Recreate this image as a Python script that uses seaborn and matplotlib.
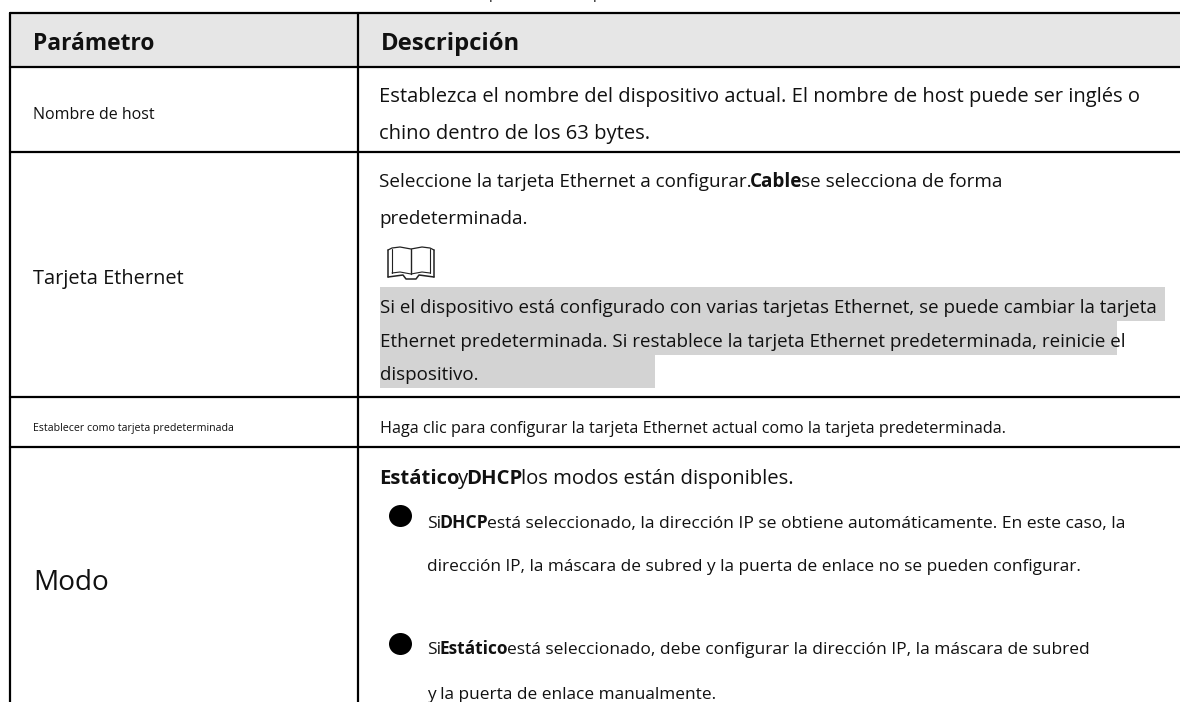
import matplotlib
matplotlib.use("Agg")
import matplotlib.pyplot as plt
import pandas as pd
import seaborn as sns
from matplotlib.patches import Ellipse

# --- table content ---
headers = ["Parámetro", "Descripción"]
header_sizes = [22.7, 23.8]
header_x = [33, 381]
param_names = ["Nombre de host", "Tarjeta Ethernet",
               "Establecer como tarjeta predeterminada", "Modo"]
param_sizes = [16.0, 20.0, 10.6, 28.0]
param_y = [115, 279, 429, 583]

# each line is a list of (text, bold) runs
desc_lines = [
    [("Establezca el nombre del dispositivo actual. El nombre de host puede ser inglés o", False)],
    [("chino dentro de los 63 bytes.", False)],
    [("Seleccione la tarjeta Ethernet a configurar.", False), ("Cable", True), ("se selecciona de forma", False)],
    [("predeterminada.", False)],
    [("Si el dispositivo está configurado con varias tarjetas Ethernet, se puede cambiar la tarjeta", False)],
    [("Ethernet predeterminada. Si restablece la tarjeta Ethernet predeterminada, reinicie el", False)],
    [("dispositivo.", False)],
    [("Haga clic para configurar la tarjeta Ethernet actual como la tarjeta predeterminada.", False)],
    [("Estático", True), ("y", False), ("DHCP", True), ("los modos están disponibles.", False)],
    [("Si", False), ("DHCP", True), ("está seleccionado, la dirección IP se obtiene automáticamente. En este caso, la", False)],
    [("dirección IP, la máscara de subred y la puerta de enlace no se pueden configurar.", False)],
    [("Si", False), ("Estático", True), ("está seleccionado, debe configurar la dirección IP, la máscara de subred", False)],
    [("y la puerta de enlace manualmente.", False)],
]
desc_x = [379, 379, 379, 379, 380, 380, 380, 380, 379, 427, 427, 427, 427]
desc_y = [102, 139, 187, 224, 313, 347, 380, 433, 484, 528, 571, 654, 699]
desc_sizes = [20.15, 20.15, 18.9, 18.9, 18.8, 18.75, 18.8, 16.15, 20.3, 17.45, 17.3, 17.4, 17.3]

# table rules, in pixels
row_edges = [13, 67, 152, 397, 447]
col_edges = [10, 358]
highlights = [(380, 1165, 287, 321), (380, 1117, 321, 355), (380, 655, 355, 388)]
bullets_y = [516, 644]
clipped_p_x = [489, 593]

sns.set_theme(style="white", rc={"axes.linewidth": 0})
plt.rcParams["font.family"] = ["Open Sans", "DejaVu Sans"]

fig = plt.figure(figsize=(11.8, 7.02), dpi=100)
ax = fig.add_axes([0, 0, 1, 1])
ax.axhspan(row_edges[0], row_edges[1], xmin=col_edges[0] / 1180, color="#e6e6e6", lw=0, zorder=0)
for x0, x1, y0, y1 in highlights:
    ax.fill_between([x0, x1], y0, y1, color="#d3d3d3", lw=0, zorder=0)

# rules go through seaborn as a long table
h_rules = pd.DataFrame({
    "x": [col_edges[0], 1180] * len(row_edges),
    "y": [e for e in row_edges for _ in range(2)],
    "rule": [i for i in range(len(row_edges)) for _ in range(2)],
})
v_rules = pd.DataFrame({
    "x": [e for e in col_edges for _ in range(2)],
    "y": [row_edges[0], 702] * len(col_edges),
    "rule": [i + 10 for i in range(len(col_edges)) for _ in range(2)],
})
rules = pd.concat([h_rules, v_rules])
sns.lineplot(data=rules, x="x", y="y", units="rule", estimator=None, sort=False,
             color="black", linewidth=1.6, ax=ax, zorder=3, legend=False)

ax.set_xlim(0, 1180)
ax.set_ylim(702, 0)
ax.set_xlabel("")
ax.set_ylabel("")
ax.set_xticks([])
ax.set_yticks([])
sns.despine(ax=ax, left=True, bottom=True)


def px(size):
    return size * 0.72


def draw_runs(x, y, runs, size):
    # bold words sit right against the text around them, so measure each run
    renderer = fig.canvas.get_renderer()
    for word, bold in runs:
        t = ax.text(x, y, word, fontsize=px(size), color="#111111", va="baseline",
                    fontweight="bold" if bold else "normal", zorder=4)
        x = ax.transData.inverted().transform(t.get_window_extent(renderer))[1][0] - 1.5


for head, size, x in zip(headers, header_sizes, header_x):
    ax.text(x, 50, head, fontsize=px(size), fontweight="bold", color="#111111", va="baseline")

for name, size, y in zip(param_names, param_sizes, param_y):
    ax.text(33, y, name, fontsize=px(size), color="#111111", va="center")

for line, x, y, size in zip(desc_lines, desc_x, desc_y, desc_sizes):
    draw_runs(x, y, line, size)

for y in bullets_y:
    ax.add_patch(Ellipse((400.5, y), 23, 22, color="black", lw=0, zorder=4))

# descenders of a line cut off by the top of the page
for x in clipped_p_x:
    ax.text(x, -2, "p", fontsize=px(14), color="#111111", va="baseline")

# small open book icon
icon = "#222222"
ax.plot([388, 392, 400, 411, 422, 430, 434], [250, 248, 247, 249, 247, 248, 250], color=icon, lw=0.9)
ax.plot([388, 388], [250, 277], color=icon, lw=1.1)
ax.plot([434, 434], [250, 277], color=icon, lw=1.1)
ax.plot([392, 392], [249, 273], color=icon, lw=0.8)
ax.plot([430, 430], [249, 273], color=icon, lw=0.8)
ax.plot([411, 411], [249, 274], color=icon, lw=1.0)
ax.plot([392, 400, 411, 422, 430], [273, 272, 274, 272, 273], color=icon, lw=0.8)
ax.plot([388, 403, 406, 416, 419, 434], [277, 275, 279, 279, 275, 277], color=icon, lw=1.1)

fig.savefig("out.png", dpi=100)
